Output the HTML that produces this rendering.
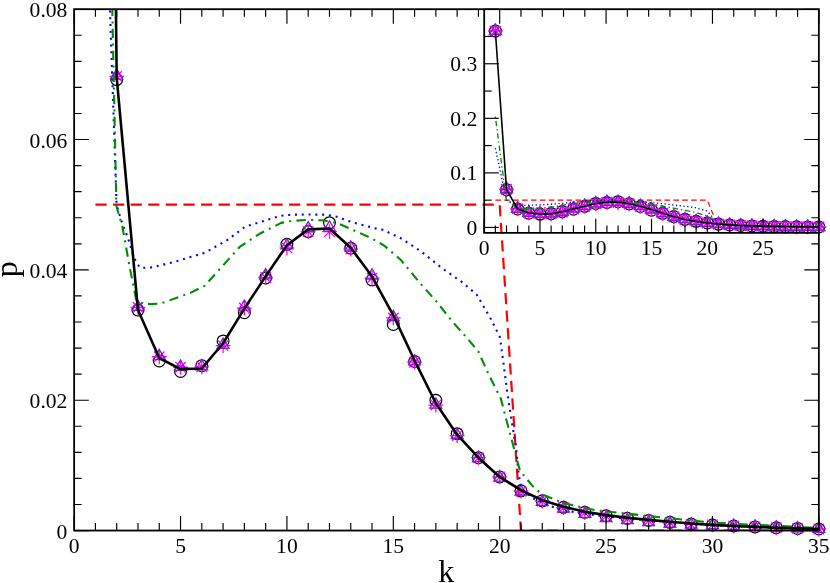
<!DOCTYPE html>
<html><head><meta charset="utf-8"><title>plot</title>
<style>html,body{margin:0;padding:0;background:#fff;}svg{display:block;will-change:transform;font-family:"Liberation Serif",serif;}</style></head>
<body>
<svg width="830" height="583" viewBox="0 0 830 583">
<rect width="830" height="583" fill="#fff"/>
<defs><clipPath id="cm"><rect x="74.15" y="9.20" width="744.70" height="521.35"/></clipPath>
<clipPath id="cmm"><rect x="64.15" y="9.20" width="764.70" height="531.35"/></clipPath>
<clipPath id="ci"><rect x="484.20" y="9.20" width="334.65" height="223.70"/></clipPath></defs>
<path clip-path="url(#cm)" fill="none" stroke-linejoin="round" d="M95.43,204.71 L499.69,204.71 L520.97,530.55 L818.85,530.55" stroke="#ff0000" stroke-width="2.2" stroke-dasharray="11.2,6.4"/>
<g clip-path="url(#cmm)"><g fill="none" stroke="#000" stroke-width="1.2"><circle cx="116.70" cy="79.58" r="5.9"/><circle cx="137.98" cy="310.08" r="5.9"/><circle cx="159.26" cy="360.98" r="5.9"/><circle cx="180.54" cy="371.41" r="5.9"/><circle cx="201.81" cy="365.67" r="5.9"/><circle cx="223.09" cy="340.97" r="5.9"/><circle cx="244.37" cy="312.69" r="5.9"/><circle cx="265.64" cy="277.96" r="5.9"/><circle cx="286.92" cy="244.33" r="5.9"/><circle cx="308.20" cy="231.62" r="5.9"/><circle cx="329.48" cy="222.69" r="5.9"/><circle cx="350.75" cy="248.17" r="5.9"/><circle cx="372.03" cy="279.98" r="5.9"/><circle cx="393.31" cy="324.42" r="5.9"/><circle cx="414.58" cy="361.50" r="5.9"/><circle cx="435.86" cy="400.28" r="5.9"/><circle cx="457.14" cy="433.71" r="5.9"/><circle cx="478.42" cy="457.69" r="5.9"/><circle cx="499.69" cy="476.92" r="5.9"/><circle cx="520.97" cy="490.81" r="5.9"/><circle cx="542.25" cy="500.78" r="5.9"/><circle cx="563.52" cy="507.30" r="5.9"/><circle cx="584.80" cy="512.32" r="5.9"/><circle cx="606.08" cy="515.71" r="5.9"/><circle cx="627.36" cy="518.31" r="5.9"/><circle cx="648.63" cy="520.46" r="5.9"/><circle cx="669.91" cy="522.35" r="5.9"/><circle cx="691.19" cy="524.05" r="5.9"/><circle cx="712.46" cy="524.88" r="5.9"/><circle cx="733.74" cy="525.99" r="5.9"/><circle cx="755.02" cy="526.90" r="5.9"/><circle cx="776.30" cy="527.68" r="5.9"/><circle cx="797.57" cy="528.40" r="5.9"/><circle cx="818.85" cy="528.99" r="5.9"/></g>
<g fill="none" stroke="#ff00ff" stroke-width="1.3"><path d="M109.30,76.32 h14.80 M116.70,68.92 v14.80 M111.47,71.09 l10.47,10.47 M111.47,81.56 l10.47,-10.47"/><path d="M130.58,307.48 h14.80 M137.98,300.08 v14.80 M132.75,302.24 l10.47,10.47 M132.75,312.71 l10.47,-10.47"/><path d="M151.86,356.74 h14.80 M159.26,349.34 v14.80 M154.03,351.51 l10.47,10.47 M154.03,361.98 l10.47,-10.47"/><path d="M173.14,367.24 h14.80 M180.54,359.84 v14.80 M175.30,362.00 l10.47,10.47 M175.30,372.47 l10.47,-10.47"/><path d="M194.41,366.78 h14.80 M201.81,359.38 v14.80 M196.58,361.55 l10.47,10.47 M196.58,372.01 l10.47,-10.47"/><path d="M215.69,345.60 h14.80 M223.09,338.20 v14.80 M217.86,340.37 l10.47,10.47 M217.86,350.83 l10.47,-10.47"/><path d="M236.97,308.06 h14.80 M244.37,300.66 v14.80 M239.13,302.83 l10.47,10.47 M239.13,313.30 l10.47,-10.47"/><path d="M258.24,277.50 h14.80 M265.64,270.10 v14.80 M260.41,272.27 l10.47,10.47 M260.41,282.73 l10.47,-10.47"/><path d="M279.52,247.85 h14.80 M286.92,240.45 v14.80 M281.69,242.62 l10.47,10.47 M281.69,253.08 l10.47,-10.47"/><path d="M300.80,231.62 h14.80 M308.20,224.22 v14.80 M302.97,226.39 l10.47,10.47 M302.97,236.85 l10.47,-10.47"/><path d="M322.08,231.62 h14.80 M329.48,224.22 v14.80 M324.24,226.39 l10.47,10.47 M324.24,236.85 l10.47,-10.47"/><path d="M343.35,249.09 h14.80 M350.75,241.69 v14.80 M345.52,243.85 l10.47,10.47 M345.52,254.32 l10.47,-10.47"/><path d="M364.63,278.09 h14.80 M372.03,270.69 v14.80 M366.80,272.85 l10.47,10.47 M366.80,283.32 l10.47,-10.47"/><path d="M385.91,317.97 h14.80 M393.31,310.57 v14.80 M388.07,312.74 l10.47,10.47 M388.07,323.20 l10.47,-10.47"/><path d="M407.18,362.22 h14.80 M414.58,354.82 v14.80 M409.35,356.99 l10.47,10.47 M409.35,367.45 l10.47,-10.47"/><path d="M428.46,405.10 h14.80 M435.86,397.70 v14.80 M430.63,399.87 l10.47,10.47 M430.63,410.33 l10.47,-10.47"/><path d="M449.74,435.60 h14.80 M457.14,428.20 v14.80 M451.91,430.37 l10.47,10.47 M451.91,440.83 l10.47,-10.47"/><path d="M471.02,457.69 h14.80 M478.42,450.29 v14.80 M473.18,452.46 l10.47,10.47 M473.18,462.92 l10.47,-10.47"/><path d="M492.29,476.92 h14.80 M499.69,469.52 v14.80 M494.46,471.68 l10.47,10.47 M494.46,482.15 l10.47,-10.47"/><path d="M513.57,491.21 h14.80 M520.97,483.81 v14.80 M515.74,485.98 l10.47,10.47 M515.74,496.44 l10.47,-10.47"/><path d="M534.85,501.18 h14.80 M542.25,493.78 v14.80 M537.01,495.95 l10.47,10.47 M537.01,506.41 l10.47,-10.47"/><path d="M556.12,507.70 h14.80 M563.52,500.30 v14.80 M558.29,502.47 l10.47,10.47 M558.29,512.93 l10.47,-10.47"/><path d="M577.40,512.72 h14.80 M584.80,505.32 v14.80 M579.57,507.48 l10.47,10.47 M579.57,517.95 l10.47,-10.47"/><path d="M598.68,516.11 h14.80 M606.08,508.71 v14.80 M600.85,510.87 l10.47,10.47 M600.85,521.34 l10.47,-10.47"/><path d="M619.96,518.71 h14.80 M627.36,511.31 v14.80 M622.12,513.48 l10.47,10.47 M622.12,523.94 l10.47,-10.47"/><path d="M641.23,520.86 h14.80 M648.63,513.46 v14.80 M643.40,515.63 l10.47,10.47 M643.40,526.09 l10.47,-10.47"/><path d="M662.51,522.75 h14.80 M669.91,515.35 v14.80 M664.68,517.52 l10.47,10.47 M664.68,527.98 l10.47,-10.47"/><path d="M683.79,524.45 h14.80 M691.19,517.05 v14.80 M685.95,519.21 l10.47,10.47 M685.95,529.68 l10.47,-10.47"/><path d="M705.06,524.88 h14.80 M712.46,517.48 v14.80 M707.23,519.65 l10.47,10.47 M707.23,530.11 l10.47,-10.47"/><path d="M726.34,525.99 h14.80 M733.74,518.59 v14.80 M728.51,520.76 l10.47,10.47 M728.51,531.22 l10.47,-10.47"/><path d="M747.62,526.90 h14.80 M755.02,519.50 v14.80 M749.79,521.67 l10.47,10.47 M749.79,532.13 l10.47,-10.47"/><path d="M768.90,527.68 h14.80 M776.30,520.28 v14.80 M771.06,522.45 l10.47,10.47 M771.06,532.92 l10.47,-10.47"/><path d="M790.17,528.40 h14.80 M797.57,521.00 v14.80 M792.34,523.17 l10.47,10.47 M792.34,533.63 l10.47,-10.47"/><path d="M811.45,528.99 h14.80 M818.85,521.59 v14.80 M813.62,523.75 l10.47,10.47 M813.62,534.22 l10.47,-10.47"/></g>
<g fill="none" stroke="#7a21c8" stroke-width="1.3" stroke-linejoin="miter"><path d="M116.70,68.86 L110.80,79.08 L122.60,79.08 Z"/><path d="M137.98,300.21 L132.08,310.43 L143.88,310.43 Z"/><path d="M159.26,349.41 L153.36,359.63 L165.16,359.63 Z"/><path d="M180.54,360.10 L174.64,370.32 L186.44,370.32 Z"/><path d="M201.81,359.51 L195.91,369.73 L207.71,369.73 Z"/><path d="M223.09,338.01 L217.19,348.23 L228.99,348.23 Z"/><path d="M244.37,299.95 L238.47,310.17 L250.27,310.17 Z"/><path d="M265.64,268.67 L259.74,278.89 L271.54,278.89 Z"/><path d="M286.92,238.62 L281.02,248.84 L292.82,248.84 Z"/><path d="M308.20,221.61 L302.30,231.83 L314.10,231.83 Z"/><path d="M329.48,220.83 L323.58,231.05 L335.38,231.05 Z"/><path d="M350.75,240.77 L344.85,250.99 L356.65,250.99 Z"/><path d="M372.03,268.80 L366.13,279.02 L377.93,279.02 Z"/><path d="M393.31,310.31 L387.41,320.53 L399.21,320.53 Z"/><path d="M414.58,354.69 L408.68,364.91 L420.48,364.91 Z"/><path d="M435.86,397.96 L429.96,408.18 L441.76,408.18 Z"/><path d="M457.14,428.27 L451.24,438.48 L463.04,438.48 Z"/><path d="M478.42,451.38 L472.52,461.60 L484.32,461.60 Z"/><path d="M499.69,470.90 L493.79,481.12 L505.59,481.12 Z"/><path d="M520.97,484.80 L515.07,495.02 L526.87,495.02 Z"/><path d="M542.25,495.07 L536.35,505.29 L548.15,505.29 Z"/><path d="M563.52,501.89 L557.62,512.10 L569.42,512.10 Z"/><path d="M584.80,507.10 L578.90,517.32 L590.70,517.32 Z"/><path d="M606.08,511.29 L600.18,521.51 L611.98,521.51 Z"/><path d="M627.36,513.50 L621.46,523.72 L633.26,523.72 Z"/><path d="M648.63,515.45 L642.73,525.67 L654.53,525.67 Z"/><path d="M669.91,516.84 L664.01,527.06 L675.81,527.06 Z"/><path d="M691.19,517.83 L685.29,528.05 L697.09,528.05 Z"/><path d="M712.46,518.37 L706.56,528.59 L718.36,528.59 Z"/><path d="M733.74,519.18 L727.84,529.39 L739.64,529.39 Z"/><path d="M755.02,520.09 L749.12,530.31 L760.92,530.31 Z"/><path d="M776.30,520.87 L770.40,531.09 L782.20,531.09 Z"/><path d="M797.57,521.59 L791.67,531.81 L803.47,531.81 Z"/><path d="M818.85,522.17 L812.95,532.39 L824.75,532.39 Z"/></g></g>
<g clip-path="url(#cm)" fill="none" stroke-linejoin="round">
<path d="M95.43,-417.66 L116.60,205.00 L122.40,224.00 L127.90,237.70 L132.00,251.50 L136.10,262.40 L140.20,267.90 L152.60,267.40 L177.30,261.00 L204.70,252.80 L226.60,240.50 L245.00,226.80 L260.60,221.90 L281.20,215.70 L291.50,214.70 L308.00,214.50 L326.50,214.70 L336.80,216.80 L351.20,221.90 L373.90,228.10 L383.10,229.90 L400.60,238.10 L421.20,251.50 L441.80,268.00 L462.40,282.40 L476.80,294.70 L490.60,318.50 L496.80,330.90 L499.90,337.10 L503.00,359.70 L507.00,390.60 L511.20,418.40 L515.70,445.00 L518.30,470.90 L520.90,488.50 L532.90,498.30 L550.00,506.00 L563.70,510.30 L579.10,512.90 L605.90,516.50 L650.00,520.50 L712.90,525.30 L819.90,529.30" stroke="#0000ff" stroke-width="2.1" stroke-dasharray="2.0,4.8" />
<path d="M95.43,-792.38 L116.40,206.00 L122.40,226.80 L129.30,265.20 L136.10,299.40 L141.00,303.00 L149.80,304.10 L160.80,303.50 L191.00,292.60 L204.70,285.70 L218.40,270.60 L240.00,246.60 L260.60,233.20 L281.20,222.90 L291.50,220.90 L308.00,219.90 L322.40,220.30 L336.80,222.90 L351.20,229.10 L371.80,238.40 L384.20,245.60 L400.60,259.70 L421.20,284.40 L437.70,303.00 L451.50,320.60 L468.00,339.10 L478.30,351.50 L488.50,374.10 L500.90,398.80 L506.00,418.40 L513.10,445.10 L520.00,470.90 L532.90,486.30 L541.40,494.00 L562.00,502.60 L582.60,507.70 L596.30,510.30 L650.00,516.20 L712.90,522.70 L755.00,524.80 L798.60,526.80 L819.50,528.20" stroke="#008b00" stroke-width="2.1" stroke-dasharray="2.0,5.3,9.4,5.3"/>
<path d="M95.43,-1815.52 L116.70,77.63 L137.98,310.08 L159.26,357.98 L180.54,369.13 L201.81,368.48 L223.09,343.26 L244.37,308.59 L265.64,276.39 L286.92,245.18 L308.20,229.34 L329.48,228.56 L350.75,247.78 L372.03,276.52 L393.31,315.30 L414.58,360.46 L435.86,403.21 L457.14,434.69 L478.42,457.69 L499.69,476.92 L520.97,490.21 L542.25,500.18 L563.52,506.70 L584.80,511.72 L606.08,515.11 L627.36,517.71 L648.63,519.86 L669.91,521.75 L691.19,523.45 L712.46,524.88 L733.74,525.99 L755.02,526.90 L776.30,527.68 L797.57,528.40 L818.85,528.99" stroke="#000" stroke-width="2.6"/>
</g>
<path clip-path="url(#ci)" fill="none" stroke-linejoin="round" d="M495.36,200.16 L707.30,200.16 L718.46,227.44 L818.85,227.44" stroke="#ff0000" stroke-width="1.15" stroke-dasharray="5.6,3.3"/>
<g fill="none" stroke="#000" stroke-width="1.25"><circle cx="495.36" cy="31.02" r="5.9"/><circle cx="506.51" cy="189.69" r="5.9"/><circle cx="517.66" cy="208.99" r="5.9"/><circle cx="528.82" cy="213.25" r="5.9"/><circle cx="539.98" cy="214.12" r="5.9"/><circle cx="551.13" cy="213.64" r="5.9"/><circle cx="562.28" cy="211.57" r="5.9"/><circle cx="573.44" cy="209.20" r="5.9"/><circle cx="584.60" cy="206.30" r="5.9"/><circle cx="595.75" cy="203.48" r="5.9"/><circle cx="606.90" cy="202.42" r="5.9"/><circle cx="618.06" cy="201.67" r="5.9"/><circle cx="629.22" cy="203.80" r="5.9"/><circle cx="640.37" cy="206.47" r="5.9"/><circle cx="651.52" cy="210.19" r="5.9"/><circle cx="662.68" cy="213.29" r="5.9"/><circle cx="673.84" cy="216.54" r="5.9"/><circle cx="684.99" cy="219.34" r="5.9"/><circle cx="696.14" cy="221.34" r="5.9"/><circle cx="707.30" cy="222.95" r="5.9"/><circle cx="718.46" cy="224.12" r="5.9"/><circle cx="729.61" cy="224.95" r="5.9"/><circle cx="740.76" cy="225.50" r="5.9"/><circle cx="751.92" cy="225.92" r="5.9"/><circle cx="763.08" cy="226.20" r="5.9"/><circle cx="774.23" cy="226.42" r="5.9"/><circle cx="785.38" cy="226.60" r="5.9"/><circle cx="796.54" cy="226.76" r="5.9"/><circle cx="807.69" cy="226.90" r="5.9"/><circle cx="818.85" cy="226.97" r="5.9"/></g>
<g fill="none" stroke="#ff00ff" stroke-width="1.7"><path d="M487.96,31.02 h14.80 M495.36,23.62 v14.80 M490.12,25.79 l10.47,10.47 M490.12,36.26 l10.47,-10.47"/><path d="M499.11,189.41 h14.80 M506.51,182.01 v14.80 M501.28,184.18 l10.47,10.47 M501.28,194.65 l10.47,-10.47"/><path d="M510.26,208.77 h14.80 M517.66,201.37 v14.80 M512.43,203.54 l10.47,10.47 M512.43,214.00 l10.47,-10.47"/><path d="M521.42,212.89 h14.80 M528.82,205.49 v14.80 M523.59,207.66 l10.47,10.47 M523.59,218.13 l10.47,-10.47"/><path d="M532.58,213.77 h14.80 M539.98,206.37 v14.80 M534.74,208.54 l10.47,10.47 M534.74,219.00 l10.47,-10.47"/><path d="M543.73,213.73 h14.80 M551.13,206.33 v14.80 M545.90,208.50 l10.47,10.47 M545.90,218.97 l10.47,-10.47"/><path d="M554.88,211.96 h14.80 M562.28,204.56 v14.80 M557.05,206.73 l10.47,10.47 M557.05,217.19 l10.47,-10.47"/><path d="M566.04,208.82 h14.80 M573.44,201.42 v14.80 M568.21,203.58 l10.47,10.47 M568.21,214.05 l10.47,-10.47"/><path d="M577.20,206.26 h14.80 M584.60,198.86 v14.80 M579.36,201.03 l10.47,10.47 M579.36,211.49 l10.47,-10.47"/><path d="M588.35,203.78 h14.80 M595.75,196.38 v14.80 M590.52,198.54 l10.47,10.47 M590.52,209.01 l10.47,-10.47"/><path d="M599.50,202.42 h14.80 M606.90,195.02 v14.80 M601.67,197.18 l10.47,10.47 M601.67,207.65 l10.47,-10.47"/><path d="M610.66,202.42 h14.80 M618.06,195.02 v14.80 M612.83,197.18 l10.47,10.47 M612.83,207.65 l10.47,-10.47"/><path d="M621.82,203.88 h14.80 M629.22,196.48 v14.80 M623.98,198.65 l10.47,10.47 M623.98,209.11 l10.47,-10.47"/><path d="M632.97,206.31 h14.80 M640.37,198.91 v14.80 M635.14,201.07 l10.47,10.47 M635.14,211.54 l10.47,-10.47"/><path d="M644.12,209.65 h14.80 M651.52,202.25 v14.80 M646.29,204.41 l10.47,10.47 M646.29,214.88 l10.47,-10.47"/><path d="M655.28,213.35 h14.80 M662.68,205.95 v14.80 M657.45,208.12 l10.47,10.47 M657.45,218.58 l10.47,-10.47"/><path d="M666.44,216.94 h14.80 M673.84,209.54 v14.80 M668.60,211.71 l10.47,10.47 M668.60,222.17 l10.47,-10.47"/><path d="M677.59,219.49 h14.80 M684.99,212.09 v14.80 M679.76,214.26 l10.47,10.47 M679.76,224.73 l10.47,-10.47"/><path d="M688.75,221.34 h14.80 M696.14,213.94 v14.80 M690.91,216.11 l10.47,10.47 M690.91,226.58 l10.47,-10.47"/><path d="M699.90,222.95 h14.80 M707.30,215.55 v14.80 M702.07,217.72 l10.47,10.47 M702.07,228.19 l10.47,-10.47"/><path d="M711.06,224.15 h14.80 M718.46,216.75 v14.80 M713.22,218.92 l10.47,10.47 M713.22,229.38 l10.47,-10.47"/><path d="M722.21,224.99 h14.80 M729.61,217.59 v14.80 M724.38,219.75 l10.47,10.47 M724.38,230.22 l10.47,-10.47"/><path d="M733.37,225.53 h14.80 M740.76,218.13 v14.80 M735.53,220.30 l10.47,10.47 M735.53,230.76 l10.47,-10.47"/><path d="M744.52,225.95 h14.80 M751.92,218.55 v14.80 M746.69,220.72 l10.47,10.47 M746.69,231.18 l10.47,-10.47"/><path d="M755.68,226.23 h14.80 M763.08,218.83 v14.80 M757.84,221.00 l10.47,10.47 M757.84,231.47 l10.47,-10.47"/><path d="M766.83,226.45 h14.80 M774.23,219.05 v14.80 M769.00,221.22 l10.47,10.47 M769.00,231.69 l10.47,-10.47"/><path d="M777.99,226.63 h14.80 M785.38,219.23 v14.80 M780.15,221.40 l10.47,10.47 M780.15,231.87 l10.47,-10.47"/><path d="M789.14,226.79 h14.80 M796.54,219.39 v14.80 M791.31,221.56 l10.47,10.47 M791.31,232.02 l10.47,-10.47"/><path d="M800.29,226.93 h14.80 M807.69,219.53 v14.80 M802.46,221.70 l10.47,10.47 M802.46,232.17 l10.47,-10.47"/><path d="M811.45,226.97 h14.80 M818.85,219.57 v14.80 M813.62,221.74 l10.47,10.47 M813.62,232.20 l10.47,-10.47"/></g>
<g fill="none" stroke="#7a21c8" stroke-width="1.5" stroke-linejoin="miter"><path d="M495.36,24.21 L489.46,34.43 L501.25,34.43 Z"/><path d="M506.51,182.55 L500.61,192.77 L512.41,192.77 Z"/><path d="M517.66,201.92 L511.76,212.14 L523.56,212.14 Z"/><path d="M528.82,206.04 L522.92,216.26 L534.72,216.26 Z"/><path d="M539.98,206.93 L534.08,217.15 L545.88,217.15 Z"/><path d="M551.13,206.88 L545.23,217.10 L557.03,217.10 Z"/><path d="M562.28,205.08 L556.38,215.30 L568.18,215.30 Z"/><path d="M573.44,201.89 L567.54,212.11 L579.34,212.11 Z"/><path d="M584.60,199.28 L578.70,209.50 L590.50,209.50 Z"/><path d="M595.75,196.76 L589.85,206.98 L601.65,206.98 Z"/><path d="M606.90,195.34 L601.00,205.56 L612.80,205.56 Z"/><path d="M618.06,195.27 L612.16,205.49 L623.96,205.49 Z"/><path d="M629.22,196.94 L623.32,207.16 L635.12,207.16 Z"/><path d="M640.37,199.29 L634.47,209.51 L646.27,209.51 Z"/><path d="M651.52,202.76 L645.62,212.98 L657.42,212.98 Z"/><path d="M662.68,206.48 L656.78,216.70 L668.58,216.70 Z"/><path d="M673.84,210.10 L667.94,220.32 L679.74,220.32 Z"/><path d="M684.99,212.64 L679.09,222.86 L690.89,222.86 Z"/><path d="M696.14,214.57 L690.25,224.79 L702.04,224.79 Z"/><path d="M707.30,216.21 L701.40,226.43 L713.20,226.43 Z"/><path d="M718.46,217.37 L712.56,227.59 L724.36,227.59 Z"/><path d="M729.61,218.23 L723.71,228.45 L735.51,228.45 Z"/><path d="M740.76,218.80 L734.87,229.02 L746.66,229.02 Z"/><path d="M751.92,219.24 L746.02,229.46 L757.82,229.46 Z"/><path d="M763.08,219.59 L757.18,229.81 L768.98,229.81 Z"/><path d="M774.23,219.77 L768.33,229.99 L780.13,229.99 Z"/><path d="M785.38,219.94 L779.49,230.16 L791.28,230.16 Z"/><path d="M796.54,220.05 L790.64,230.27 L802.44,230.27 Z"/><path d="M807.69,220.14 L801.79,230.36 L813.59,230.36 Z"/><path d="M818.85,220.18 L812.95,230.40 L824.75,230.40 Z"/></g>
<g clip-path="url(#ci)" fill="none" stroke-linejoin="round">
<path d="M495.36,148.06 L506.46,200.19 L509.50,201.78 L512.38,202.93 L514.53,204.08 L516.68,204.99 L518.83,205.45 L525.33,205.41 L538.28,204.88 L552.64,204.19 L564.13,203.16 L573.77,202.01 L581.95,201.60 L592.75,201.08 L598.15,201.00 L606.80,200.98 L616.50,201.00 L621.90,201.18 L629.45,201.60 L641.35,202.12 L646.17,202.27 L655.35,202.96 L666.15,204.08 L676.95,205.46 L687.75,206.67 L695.30,207.70 L702.53,209.69 L705.78,210.73 L707.41,211.25 L709.03,213.14 L711.13,215.73 L713.33,218.05 L715.69,220.28 L717.06,222.45 L718.42,223.92 L724.71,224.74 L733.67,225.39 L740.86,225.75 L748.93,225.97 L762.98,226.27 L786.10,226.60" stroke="#0000ff" stroke-width="1.35" stroke-dasharray="1.3,2.5"/>
<path d="M495.36,116.69 L506.35,200.27 L509.50,202.01 L513.11,205.23 L516.68,208.09 L519.25,208.39 L523.86,208.48 L529.63,208.43 L545.46,207.52 L552.64,206.94 L559.83,205.68 L571.15,203.67 L581.95,202.55 L592.75,201.69 L598.15,201.52 L606.80,201.44 L614.35,201.47 L621.90,201.69 L629.45,202.21 L640.25,202.98 L646.75,203.59 L655.35,204.77 L666.15,206.84 L674.80,208.39 L682.03,209.87 L690.68,211.42 L696.08,212.45 L701.43,214.35 L707.93,216.41 L710.61,218.05 L714.33,220.29 L717.95,222.45 L724.71,223.74 L729.17,224.38 L739.97,225.10 L750.77,225.53 L757.95,225.75 L786.10,226.24" stroke="#008b00" stroke-width="1.35" stroke-dasharray="1.3,2.9,5.4,2.9"/>
<path d="M495.36,31.02 L506.51,189.52 L517.66,208.99 L528.82,213.00 L539.98,213.93 L551.13,213.87 L562.28,211.76 L573.44,208.86 L584.60,206.17 L595.75,203.55 L606.90,202.23 L618.06,202.16 L629.22,203.77 L640.37,206.18 L651.52,209.42 L662.68,213.20 L673.84,216.78 L684.99,219.42 L696.14,221.34 L707.30,222.95 L718.46,224.07 L729.61,224.90 L740.76,225.45 L751.92,225.87 L763.08,226.15 L774.23,226.37 L785.38,226.55 L796.54,226.71 L807.69,226.85 L818.85,226.97" stroke="#000" stroke-width="1.6"/>
</g>
<rect x="74.15" y="9.20" width="744.70" height="521.35" fill="none" stroke="#000" stroke-width="1.8"/>
<path d="M484.20,9.20 V232.90 H818.85" fill="none" stroke="#000" stroke-width="1.8"/>
<g stroke="#000" stroke-width="1.15" fill="none"><path d="M74.15,530.55 v-14.60 M74.15,9.20 v14.60"/><path d="M95.43,530.55 v-7.50 M95.43,9.20 v7.50"/><path d="M116.70,530.55 v-7.50 M116.70,9.20 v7.50"/><path d="M137.98,530.55 v-7.50 M137.98,9.20 v7.50"/><path d="M159.26,530.55 v-7.50 M159.26,9.20 v7.50"/><path d="M180.54,530.55 v-14.60 M180.54,9.20 v14.60"/><path d="M201.81,530.55 v-7.50 M201.81,9.20 v7.50"/><path d="M223.09,530.55 v-7.50 M223.09,9.20 v7.50"/><path d="M244.37,530.55 v-7.50 M244.37,9.20 v7.50"/><path d="M265.64,530.55 v-7.50 M265.64,9.20 v7.50"/><path d="M286.92,530.55 v-14.60 M286.92,9.20 v14.60"/><path d="M308.20,530.55 v-7.50 M308.20,9.20 v7.50"/><path d="M329.48,530.55 v-7.50 M329.48,9.20 v7.50"/><path d="M350.75,530.55 v-7.50 M350.75,9.20 v7.50"/><path d="M372.03,530.55 v-7.50 M372.03,9.20 v7.50"/><path d="M393.31,530.55 v-14.60 M393.31,9.20 v14.60"/><path d="M414.58,530.55 v-7.50 M414.58,9.20 v7.50"/><path d="M435.86,530.55 v-7.50 M435.86,9.20 v7.50"/><path d="M457.14,530.55 v-7.50 M457.14,9.20 v7.50"/><path d="M478.42,530.55 v-7.50 M478.42,9.20 v7.50"/><path d="M499.69,530.55 v-14.60 M499.69,9.20 v14.60"/><path d="M520.97,530.55 v-7.50 M520.97,9.20 v7.50"/><path d="M542.25,530.55 v-7.50 M542.25,9.20 v7.50"/><path d="M563.52,530.55 v-7.50 M563.52,9.20 v7.50"/><path d="M584.80,530.55 v-7.50 M584.80,9.20 v7.50"/><path d="M606.08,530.55 v-14.60 M606.08,9.20 v14.60"/><path d="M627.36,530.55 v-7.50 M627.36,9.20 v7.50"/><path d="M648.63,530.55 v-7.50 M648.63,9.20 v7.50"/><path d="M669.91,530.55 v-7.50 M669.91,9.20 v7.50"/><path d="M691.19,530.55 v-7.50 M691.19,9.20 v7.50"/><path d="M712.46,530.55 v-14.60 M712.46,9.20 v14.60"/><path d="M733.74,530.55 v-7.50 M733.74,9.20 v7.50"/><path d="M755.02,530.55 v-7.50 M755.02,9.20 v7.50"/><path d="M776.30,530.55 v-7.50 M776.30,9.20 v7.50"/><path d="M797.57,530.55 v-7.50 M797.57,9.20 v7.50"/><path d="M818.85,530.55 v-14.60 M818.85,9.20 v14.60"/><path d="M74.15,530.55 h14.60 M818.85,530.55 h-14.60"/><path d="M74.15,504.48 h7.50 M818.85,504.48 h-7.50"/><path d="M74.15,478.41 h7.50 M818.85,478.41 h-7.50"/><path d="M74.15,452.35 h7.50 M818.85,452.35 h-7.50"/><path d="M74.15,426.28 h7.50 M818.85,426.28 h-7.50"/><path d="M74.15,400.21 h14.60 M818.85,400.21 h-14.60"/><path d="M74.15,374.14 h7.50 M818.85,374.14 h-7.50"/><path d="M74.15,348.08 h7.50 M818.85,348.08 h-7.50"/><path d="M74.15,322.01 h7.50 M818.85,322.01 h-7.50"/><path d="M74.15,295.94 h7.50 M818.85,295.94 h-7.50"/><path d="M74.15,269.88 h14.60 M818.85,269.88 h-14.60"/><path d="M74.15,243.81 h7.50 M818.85,243.81 h-7.50"/><path d="M74.15,217.74 h7.50 M818.85,217.74 h-7.50"/><path d="M74.15,191.67 h7.50 M818.85,191.67 h-7.50"/><path d="M74.15,165.61 h7.50 M818.85,165.61 h-7.50"/><path d="M74.15,139.54 h14.60 M818.85,139.54 h-14.60"/><path d="M74.15,113.47 h7.50 M818.85,113.47 h-7.50"/><path d="M74.15,87.40 h7.50 M818.85,87.40 h-7.50"/><path d="M74.15,61.33 h7.50 M818.85,61.33 h-7.50"/><path d="M74.15,35.27 h7.50 M818.85,35.27 h-7.50"/><path d="M74.15,9.20 h14.60 M818.85,9.20 h-14.60"/><path d="M484.20,232.90 v-14.20"/><path d="M495.36,232.90 v-7.50"/><path d="M506.51,232.90 v-7.50"/><path d="M517.66,232.90 v-7.50"/><path d="M528.82,232.90 v-7.50"/><path d="M539.98,232.90 v-14.20"/><path d="M551.13,232.90 v-7.50"/><path d="M562.28,232.90 v-7.50"/><path d="M573.44,232.90 v-7.50"/><path d="M584.60,232.90 v-7.50"/><path d="M595.75,232.90 v-14.20"/><path d="M606.90,232.90 v-7.50"/><path d="M618.06,232.90 v-7.50"/><path d="M629.22,232.90 v-7.50"/><path d="M640.37,232.90 v-7.50"/><path d="M651.52,232.90 v-14.20"/><path d="M662.68,232.90 v-7.50"/><path d="M673.84,232.90 v-7.50"/><path d="M684.99,232.90 v-7.50"/><path d="M696.14,232.90 v-7.50"/><path d="M707.30,232.90 v-14.20"/><path d="M718.46,232.90 v-7.50"/><path d="M729.61,232.90 v-7.50"/><path d="M740.76,232.90 v-7.50"/><path d="M751.92,232.90 v-7.50"/><path d="M763.08,232.90 v-14.20"/><path d="M774.23,232.90 v-7.50"/><path d="M785.38,232.90 v-7.50"/><path d="M796.54,232.90 v-7.50"/><path d="M807.69,232.90 v-7.50"/><path d="M818.85,232.90 v-14.20"/><path d="M484.20,227.44 h14.60"/><path d="M484.20,200.16 h7.50"/><path d="M484.20,172.88 h14.60"/><path d="M484.20,145.60 h7.50"/><path d="M484.20,118.32 h14.60"/><path d="M484.20,91.04 h7.50"/><path d="M484.20,63.76 h14.60"/><path d="M484.20,36.48 h7.50"/><path d="M484.20,9.20 h14.60"/></g>
<g font-family="Liberation Serif, serif" font-size="21.6" fill="#000"><text x="74.15" y="552.80" text-anchor="middle">0</text><text x="180.54" y="552.80" text-anchor="middle">5</text><text x="286.92" y="552.80" text-anchor="middle">10</text><text x="393.31" y="552.80" text-anchor="middle">15</text><text x="499.69" y="552.80" text-anchor="middle">20</text><text x="606.08" y="552.80" text-anchor="middle">25</text><text x="712.46" y="552.80" text-anchor="middle">30</text><text x="818.85" y="552.80" text-anchor="middle">35</text><text x="67.40" y="538.65" text-anchor="end">0</text><text x="67.40" y="408.31" text-anchor="end">0.02</text><text x="67.40" y="277.98" text-anchor="end">0.04</text><text x="67.40" y="147.64" text-anchor="end">0.06</text><text x="67.40" y="17.30" text-anchor="end">0.08</text><text x="484.20" y="254.60" text-anchor="middle">0</text><text x="539.98" y="254.60" text-anchor="middle">5</text><text x="595.75" y="254.60" text-anchor="middle">10</text><text x="651.52" y="254.60" text-anchor="middle">15</text><text x="707.30" y="254.60" text-anchor="middle">20</text><text x="763.08" y="254.60" text-anchor="middle">25</text><text x="477.20" y="234.74" text-anchor="end">0</text><text x="477.20" y="180.18" text-anchor="end">0.1</text><text x="477.20" y="125.62" text-anchor="end">0.2</text><text x="477.20" y="71.06" text-anchor="end">0.3</text></g>
<text x="446.3" y="581.8" text-anchor="middle" font-family="Liberation Serif, serif" font-size="32">k</text>
<text transform="translate(17.0,269.3) rotate(-90)" text-anchor="middle" font-family="Liberation Serif, serif" font-size="32">p</text>
</svg>
</body></html>
